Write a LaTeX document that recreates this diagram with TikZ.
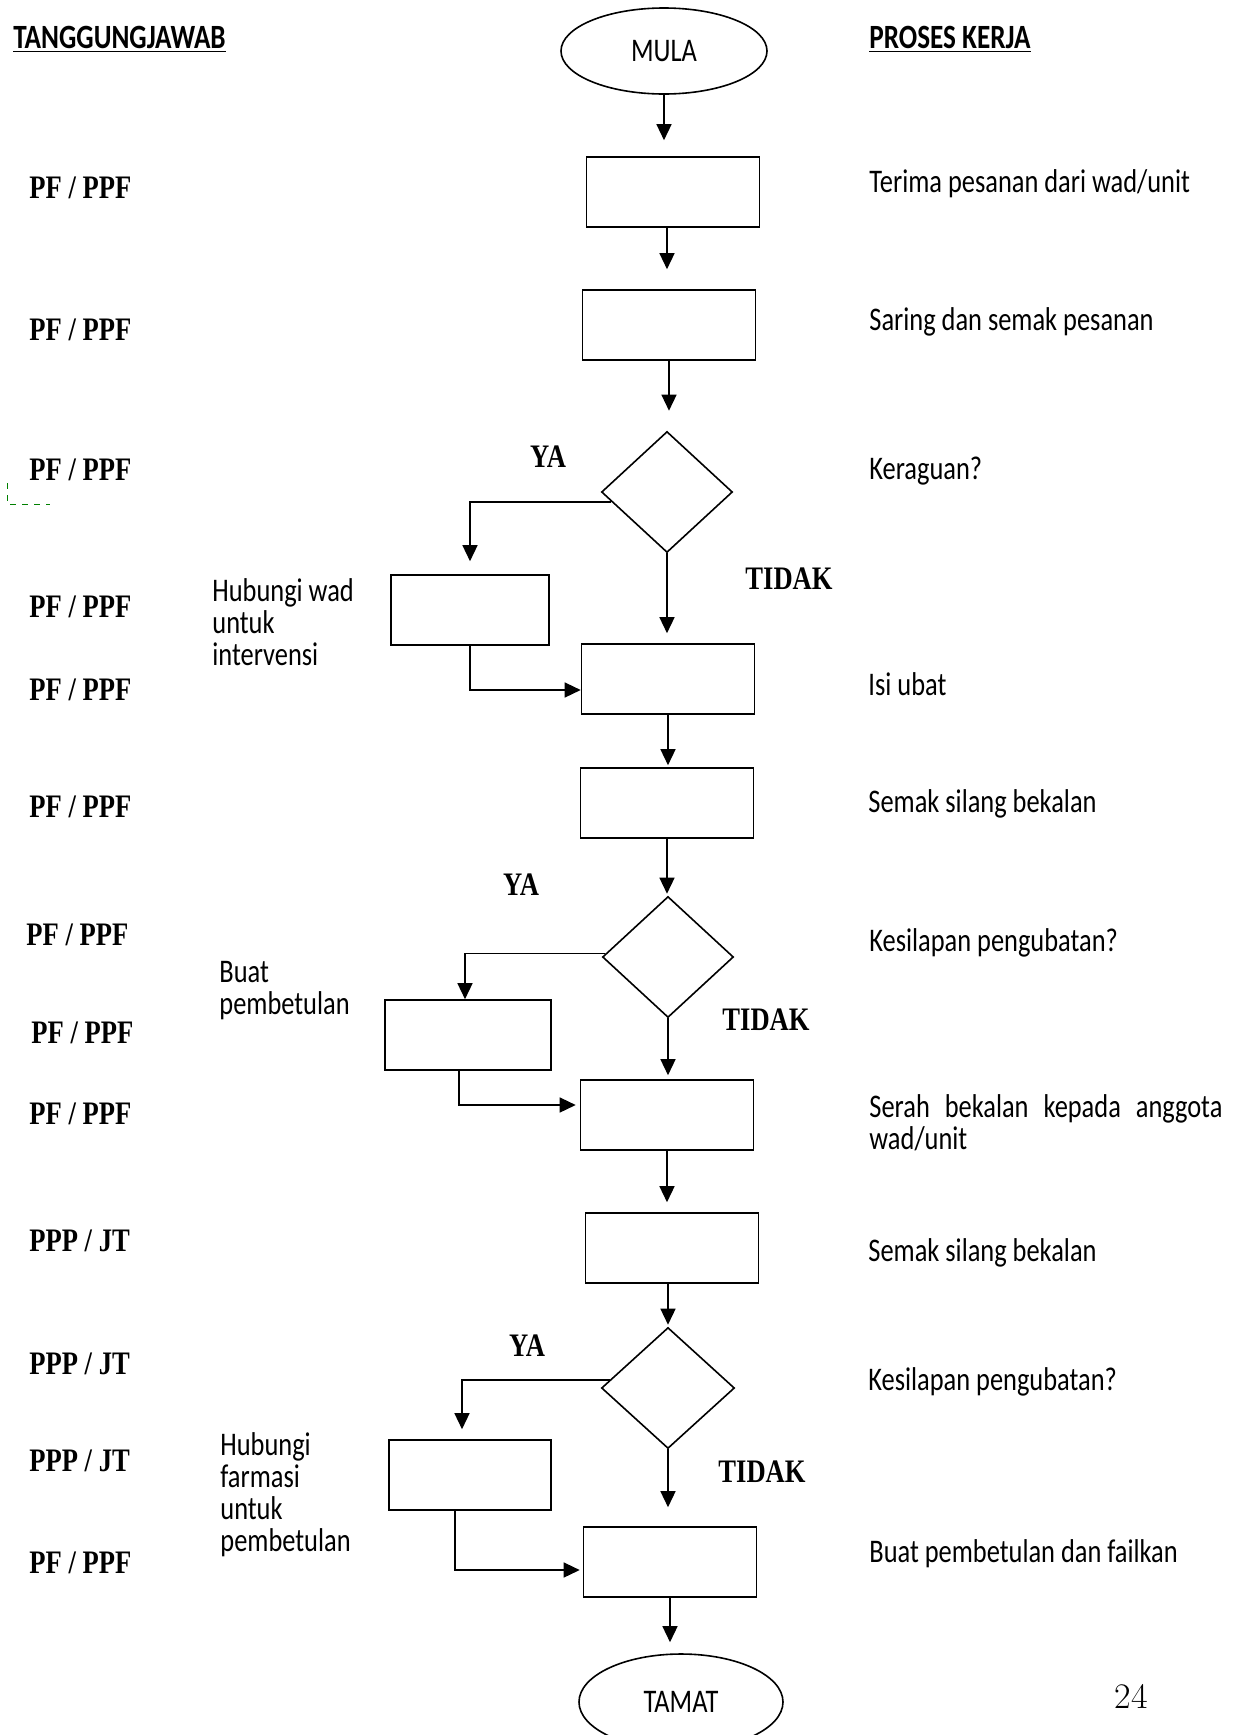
\documentclass[tikz,border=0pt]{standalone}
\usepackage{fontspec}
\usetikzlibrary{shapes.geometric,arrows.meta}
\newfontfamily\calibfont[FakeStretch=0.8]{Carlito}
\newfontfamily\cambfont[FakeStretch=0.81]{Liberation Serif}

\begin{document}
\begin{tikzpicture}[
  x=0.5pt, y=-0.5pt,
  >={Triangle[length=8pt,width=7.5pt]},
  every node/.style={inner sep=0pt},
  box/.style={draw, line width=0.8pt, minimum width=86.5pt, minimum height=35pt},
  decision/.style={draw, diamond, line width=0.8pt, minimum width=65.5pt, minimum height=60.5pt},
  terminal/.style={draw, ellipse, line width=0.8pt, minimum width=103pt, minimum height=43pt,
    font=\calibfont\fontsize{16.5}{18}\selectfont},
  who/.style={anchor=west, font=\cambfont\bfseries\fontsize{16.4}{18}\selectfont},
  answer/.style={font=\cambfont\bfseries\fontsize{16.4}{18}\selectfont},
  task/.style={anchor=west, font=\calibfont\fontsize{16.5}{16}\selectfont},
  note/.style={anchor=west, align=left, font=\calibfont\fontsize{16.5}{16}\selectfont},
  flow/.style={->, line width=0.7pt}
]
  \useasboundingbox (0,0) rectangle (1236,1735);

  % headings
  \node[anchor=west, font=\calibfont\bfseries\fontsize{17}{18}\selectfont] (hdwho) at (13,39) {\underline{TANGGUNGJAWAB}};
  \node[anchor=west, font=\calibfont\bfseries\fontsize{17}{18}\selectfont] (hdtask) at (869,39) {\underline{PROSES KERJA}};

  % flow
  \node[terminal] (mula) at (664,51) {MULA};
  \node[box] (terima) at (673,192) {};
  \node[box] (saring) at (669,325) {};
  \node[decision] (ragu) at (667,492) {};
  \node[box, minimum width=79pt] (hubwad) at (470,610) {};
  \node[box] (isi) at (668,679) {};
  \node[box] (semak) at (667,803) {};
  \node[decision] (silap) at (668,957) {};
  \node[box, minimum width=83pt] (betul) at (468,1035) {};
  \node[box] (serah) at (667,1115) {};
  \node[box] (semakb) at (672,1248) {};
  \node[decision, minimum width=66.5pt] (silapb) at (668,1388) {};
  \node[box, minimum width=81pt] (hubfar) at (470,1475) {};
  \node[box] (failkan) at (670,1562) {};
  \node[terminal, minimum width=102pt, minimum height=48pt] (tamat) at (681,1702) {TAMAT};

  \draw[flow, shorten >=8pt] (mula) -- (mula |- terima.north);
  \draw[flow, shorten >=10pt] (terima.south -| ragu) -- (saring.north -| ragu);
  \draw[flow, shorten >=10pt] (saring) -- (saring |- ragu.north);
  \draw[flow, shorten >=5pt] (ragu) -- (ragu |- isi.north);
  \draw[flow, shorten >=1pt] (isi) -- (isi |- semak.north);
  \draw[flow, shorten >=1pt] (semak) -- (semak |- silap.north);
  \draw[flow, shorten >=2pt] (silap) -- (silap |- serah.north);
  \draw[flow, shorten >=5pt] (serah) -- (serah |- semakb.north);
  \draw[flow, shorten >=1pt] (semakb.south -| silapb) -- (silapb.north);
  \draw[flow, shorten >=9.5pt] (silapb) -- (silapb |- failkan.north);
  \draw[flow, shorten >=5.5pt] (failkan) -- (failkan |- tamat.north);

  % YA branches
  \draw[flow, shorten >=6.5pt] (ragu.190) -| (hubwad.north);
  \draw[flow] (silap.177) -| ([xshift=-1.5pt]betul.north);
  \draw[flow, shorten >=5pt] (silapb.172) -| ([xshift=-4pt]hubfar.north);
  \draw[flow] (hubwad.south) |- ([yshift=-5.5pt]isi.west);
  \draw[flow, shorten >=2pt] ([xshift=-4.5pt]betul.south) |- ([yshift=5pt]serah.west);
  \draw[flow, shorten >=1.5pt] ([xshift=-7.5pt]hubfar.south) |- ([yshift=-4pt]failkan.west);

  \node[answer] (ya1) at (548,457) {YA};
  \node[answer] (tidak1) at (789,579) {TIDAK};
  \node[answer] (ya2) at (521,885) {YA};
  \node[answer] (tidak2) at (766,1020) {TIDAK};
  \node[answer] (ya3) at (527,1346) {YA};
  \node[answer] (tidak3) at (762,1472) {TIDAK};

  % responsibility
  \node[who] (w1) at (29,188) {PF / PPF};
  \node[who] (w2) at (29,330) {PF / PPF};
  \node[who] (w3) at (29,470) {PF / PPF};
  \node[who] (w4) at (29,607) {PF / PPF};
  \node[who] (w5) at (29,690) {PF / PPF};
  \node[who] (w6) at (29,807) {PF / PPF};
  \node[who] (w7) at (26,935) {PF / PPF};
  \node[who] (w8) at (31,1033) {PF / PPF};
  \node[who] (w9) at (29,1114) {PF / PPF};
  \node[who] (w10) at (29,1241) {PPP / JT};
  \node[who] (w11) at (29,1364) {PPP / JT};
  \node[who] (w12) at (29,1461) {PPP / JT};
  \node[who] (w13) at (29,1563) {PF / PPF};

  % side notes
  \node[note] (n1) at (212,622) {Hubungi wad\\untuk\\intervensi};
  \node[note] (n2) at (219,991) {Buat\\pembetulan};
  \node[note] (n3) at (220,1495) {Hubungi\\farmasi\\untuk\\pembetulan};

  % work steps
  \node[task] (t1) at (869,184) {Terima pesanan dari wad/unit};
  \node[task] (t2) at (869,322) {Saring dan semak pesanan};
  \node[task] (t3) at (869,471) {Keraguan?};
  \node[task] (t4) at (868,684) {Isi ubat};
  \node[task] (t5) at (868,804) {Semak silang bekalan};
  \node[task] (t6) at (869,943) {Kesilapan pengubatan?};
  \node[task, text width=176.5pt, align=justify] (t7) at (869,1123) {Serah bekalan kepada anggota wad/unit};
  \node[task] (t8) at (868,1253) {Semak silang bekalan};
  \node[task] (t9) at (868,1382) {Kesilapan pengubatan?};
  \node[task] (t10) at (869,1554) {Buat pembetulan dan failkan};

  \node[font=\fontsize{18}{20}\selectfont] (pg) at (1131,1696) {24};

  \draw[green!50!black, dashed, line width=0.5pt] (7,483) -- (7,504) -- (50,504);
\end{tikzpicture}
\end{document}
